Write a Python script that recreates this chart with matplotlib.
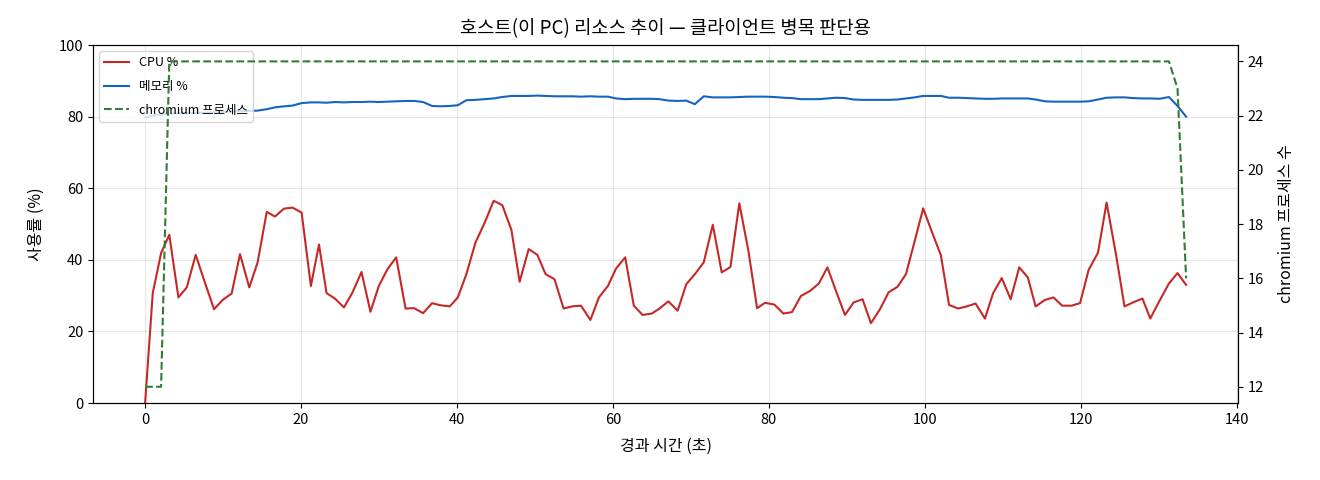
import matplotlib
matplotlib.use("Agg")
import matplotlib.pyplot as plt

plt.rcParams['font.family'] = ['Noto Sans CJK KR', 'DejaVu Sans']
plt.rcParams['axes.unicode_minus'] = False

elapsed_s = [
    0, 0.98, 2.05, 3.1, 4.27, 5.34, 6.49, 7.6, 8.84, 9.95,
    11.1, 12.17, 13.36, 14.43, 15.6, 16.65, 17.8, 18.9, 20.07, 21.26,
    22.3, 23.27, 24.34, 25.5, 26.6, 27.75, 28.9, 29.97, 31.08, 32.2,
    33.4, 34.5, 35.65, 36.8, 37.9, 39.07, 40.1, 41.2, 42.36, 43.55,
    44.7, 45.8, 46.97, 48.03, 49.19, 50.3, 51.36, 52.5, 53.67, 54.78,
    55.9, 57.1, 58.2, 59.35, 60.4, 61.57, 62.67, 63.8, 64.98, 65.97,
    67.1, 68.3, 69.4, 70.5, 71.64, 72.8, 73.95, 75.06, 76.2, 77.37,
    78.48, 79.5, 80.7, 81.85, 82.96, 84.1, 85.27, 86.4, 87.5, 88.6,
    89.75, 90.86, 92.0, 93.08, 94.24, 95.34, 96.5, 97.57, 98.7, 99.78,
    100.9, 102.05, 103.1, 104.26, 105.38, 106.5, 107.7, 108.75, 109.86, 111.0,
    112.1, 113.2, 114.2, 115.4, 116.5, 117.6, 118.8, 119.9, 121.0, 122.2,
    123.3, 124.5, 125.6, 126.7, 127.9, 128.9, 130.1, 131.3, 132.4, 133.5,
]

cpu_pct = [
    0, 30.7, 41.9, 47.0, 29.5, 32.3, 41.4, 34.1, 26.2, 28.8,
    30.6, 41.6, 32.3, 39.3, 53.4, 52.1, 54.3, 54.6, 53.2, 32.7,
    44.3, 30.7, 29.2, 26.7, 30.9, 36.6, 25.5, 32.7, 37.4, 40.7,
    26.4, 26.5, 25.1, 27.9, 27.3, 27.0, 29.5, 36.0, 44.8, 50.4,
    56.5, 55.3, 48.4, 33.9, 43.0, 41.4, 36.0, 34.6, 26.4, 27.0,
    27.2, 23.2, 29.5, 32.7, 37.6, 40.7, 27.2, 24.6, 25.0, 26.4,
    28.4, 25.8, 33.2, 36.0, 39.3, 49.8, 36.5, 38.0, 55.8, 42.5,
    26.5, 28.0, 27.5, 25.0, 25.4, 29.9, 31.3, 33.4, 37.9, 31.3,
    24.6, 28.1, 29.0, 22.3, 26.2, 30.9, 32.5, 36.0, 45.3, 54.4,
    47.8, 41.3, 27.4, 26.4, 27.0, 27.8, 23.6, 30.7, 34.9, 29.0,
    37.9, 35.1, 27.0, 28.8, 29.5, 27.2, 27.2, 27.9, 37.2, 42.0,
    56.0, 41.6, 27.0, 28.1, 29.2, 23.6, 28.6, 33.4, 36.3, 33.0,
]

mem_pct = [
    79.8, 80.3, 80.6, 80.8, 81.0, 81.0, 81.0, 81.1, 81.2, 81.3,
    81.4, 81.5, 81.6, 81.7, 82.1, 82.6, 82.9, 83.1, 83.8, 84.0,
    84.0, 83.9, 84.1, 84.0, 84.1, 84.1, 84.2, 84.1, 84.2, 84.3,
    84.4, 84.4, 84.1, 83.0, 82.9, 83.0, 83.2, 84.6, 84.7, 84.9,
    85.1, 85.5, 85.8, 85.8, 85.8, 85.9, 85.8, 85.7, 85.7, 85.7,
    85.6, 85.7, 85.6, 85.6, 85.1, 84.9, 85.0, 85.0, 85.0, 84.9,
    84.5, 84.4, 84.5, 83.5, 85.7, 85.4, 85.4, 85.4, 85.5, 85.6,
    85.6, 85.6, 85.5, 85.3, 85.2, 84.9, 84.9, 84.9, 85.1, 85.3,
    85.2, 84.8, 84.7, 84.7, 84.7, 84.7, 84.8, 85.1, 85.4, 85.8,
    85.8, 85.8, 85.3, 85.3, 85.2, 85.1, 85.0, 85.0, 85.1, 85.1,
    85.1, 85.1, 84.8, 84.3, 84.2, 84.2, 84.2, 84.2, 84.3, 84.8,
    85.3, 85.4, 85.4, 85.2, 85.1, 85.1, 85.0, 85.5, 83.0, 80.0,
]

chromium_procs = [12, 12, 12] + [24] * 115 + [23, 16]

fig = plt.figure(figsize=(13.2, 4.8), dpi=100)
ax = fig.add_axes([0.0705, 0.1604, 0.8675, 0.7456])
ax2 = ax.twinx()

l1, = ax.plot(elapsed_s, cpu_pct, color='#c62828', lw=1.5, label='CPU %')
l2, = ax.plot(elapsed_s, mem_pct, color='#1565c0', lw=1.5, label='메모리 %')
l3, = ax2.plot(elapsed_s, chromium_procs, color='#2e7d32', lw=1.5, ls='--', label='chromium 프로세스')

ax.set_ylim(0, 100)
ax.set_xlabel('경과 시간 (초)', fontsize=11.5, labelpad=8)
ax.set_ylabel('사용률 (%)', fontsize=11.5, labelpad=10)
ax2.set_ylabel('chromium 프로세스 수', fontsize=11.5, labelpad=10)
ax.set_title('호스트(이 PC) 리소스 추이 — 클라이언트 병목 판단용', fontsize=13.5, pad=8)
ax.grid(True, alpha=0.3)
ax.tick_params(labelsize=10.5)
ax2.tick_params(labelsize=10.5)

ax.legend(handles=[l1, l2, l3], loc='upper left', fontsize=9, labelspacing=0.85)

fig.savefig('out.png', dpi=100)
